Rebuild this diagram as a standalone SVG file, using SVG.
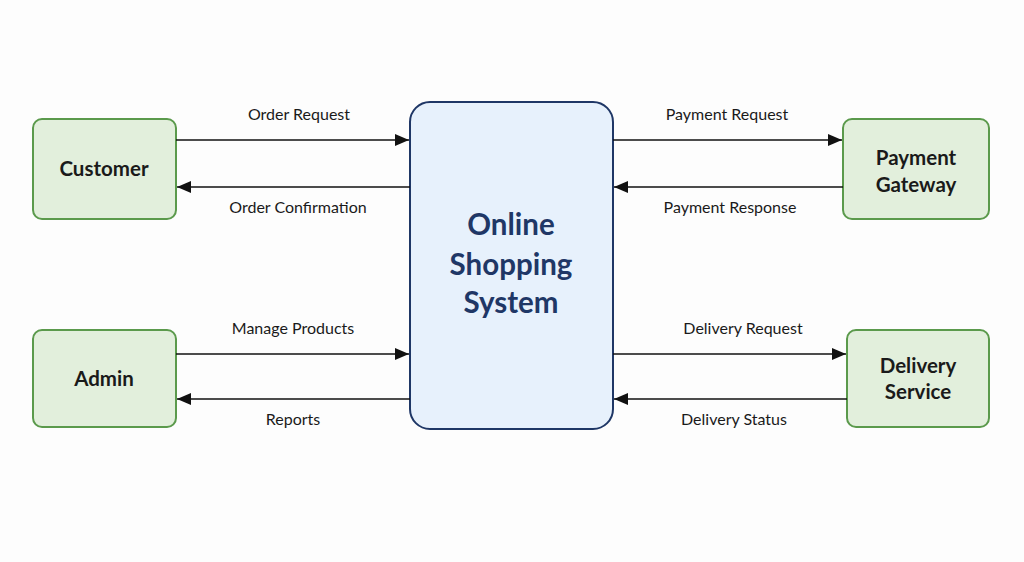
<svg xmlns="http://www.w3.org/2000/svg" width="1024" height="562" viewBox="0 0 1024 562">
<defs>
<marker id="ah" viewBox="0 0 14 12" refX="14" refY="6" markerWidth="14" markerHeight="12" markerUnits="userSpaceOnUse" orient="auto">
<path d="M0,0 L14,6 L0,12 Z" fill="#111"/>
</marker>
<style>
.ext{fill:#e2efdc;stroke:#5b9a4c;stroke-width:2}
.ctr{fill:#e7f1fc;stroke:#1f3766;stroke-width:2}
.nt{font-family:Lato,"Open Sans","Liberation Sans",sans-serif;font-size:20.5px;font-weight:bold;fill:#1a1a1a;text-anchor:middle}
.ct{font-family:Lato,"Open Sans","Liberation Sans",sans-serif;font-size:29.5px;font-weight:bold;fill:#1f3766;text-anchor:middle}
.lb{font-family:Lato,"Open Sans","Liberation Sans",sans-serif;font-size:16px;fill:#1a1a1a;text-anchor:middle}
.ln{stroke:#111;stroke-width:1.6;fill:none;marker-end:url(#ah)}
</style>
</defs>
<rect width="1024" height="562" fill="#fdfdfd"/>
<g id="center">
<rect class="ctr" x="410" y="102" width="203" height="327" rx="20"/>
<text class="ct" x="511" y="235">Online</text>
<text class="ct" x="511" y="275">Shopping</text>
<text class="ct" x="511" y="313">System</text>
</g>
<g id="customer">
<rect class="ext" x="33" y="119" width="143" height="100" rx="9"/>
<text class="nt" x="104" y="176">Customer</text>
</g>
<g id="admin">
<rect class="ext" x="33" y="330" width="143" height="97" rx="9"/>
<text class="nt" x="104" y="386">Admin</text>
</g>
<g id="payment">
<rect class="ext" x="843" y="119" width="146" height="100" rx="9"/>
<text class="nt" x="916" y="165">Payment</text>
<text class="nt" x="916" y="192">Gateway</text>
</g>
<g id="delivery">
<rect class="ext" x="847" y="330" width="142" height="97" rx="9"/>
<text class="nt" x="918" y="373">Delivery</text>
<text class="nt" x="918" y="399">Service</text>
</g>
<g id="connectors">
<line class="ln" x1="176" y1="140" x2="409" y2="140"/>
<line class="ln" x1="410" y1="187" x2="177" y2="187"/>
<line class="ln" x1="176" y1="354" x2="409" y2="354"/>
<line class="ln" x1="410" y1="399" x2="177" y2="399"/>
<line class="ln" x1="613" y1="140" x2="842" y2="140"/>
<line class="ln" x1="843" y1="187" x2="614" y2="187"/>
<line class="ln" x1="613" y1="354" x2="846" y2="354"/>
<line class="ln" x1="847" y1="399" x2="614" y2="399"/>
<text class="lb" x="299" y="120">Order Request</text>
<text class="lb" x="298" y="213">Order Confirmation</text>
<text class="lb" x="293" y="334">Manage Products</text>
<text class="lb" x="293" y="425">Reports</text>
<text class="lb" x="727" y="120">Payment Request</text>
<text class="lb" x="730" y="213">Payment Response</text>
<text class="lb" x="743" y="334">Delivery Request</text>
<text class="lb" x="734" y="425">Delivery Status</text>
</g>
</svg>
